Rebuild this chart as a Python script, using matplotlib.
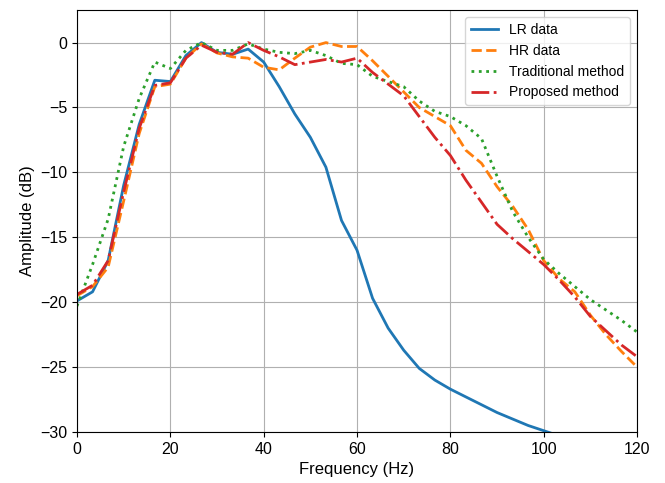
import numpy as np
import matplotlib
matplotlib.use("Agg")
import matplotlib.pyplot as plt

plt.rcParams['font.family'] = ['Liberation Sans', 'DejaVu Sans']

# frequency bins (Hz), spacing 10/3 Hz
freq = [0.0, 3.33, 6.67, 10.0, 13.33, 16.67, 20.0, 23.33, 26.67, 30.0,
        33.33, 36.67, 40.0, 43.33, 46.67, 50.0, 53.33, 56.67, 60.0, 63.33,
        66.67, 70.0, 73.33, 76.67, 80.0, 83.33, 86.67, 90.0, 93.33, 96.67,
        100.0, 103.33, 106.67, 110.0, 113.33, 116.67, 120.0]

lr_data = [-19.9, -19.2, -16.8, -11.0, -6.3, -2.9, -3.0, -1.0, 0.0, -0.75,
           -0.9, -0.5, -1.5, -3.4, -5.5, -7.3, -9.6, -13.7, -16.0, -19.7,
           -22.0, -23.7, -25.1, -26.0, -26.7, -27.3, -27.9, -28.5, -29.0, -29.5,
           -29.9, -30.3, -30.7, -31.1, -31.5, -31.9, -32.3]

hr_data = [-19.5, -18.8, -17.3, -12.2, -7.0, -3.4, -3.2, -1.2, -0.1, -0.8,
           -1.1, -1.2, -1.9, -2.1, -1.2, -0.35, 0.0, -0.3, -0.3, -1.4,
           -2.6, -3.8, -5.0, -5.7, -6.4, -8.3, -9.3, -11.1, -12.6, -14.4,
           -16.8, -18.2, -19.2, -21.0, -22.5, -23.8, -25.0]

traditional = [-20.3, -17.1, -13.6, -8.0, -4.3, -1.5, -2.0, -0.6, 0.0, -0.6,
               -0.6, -0.1, -0.5, -0.75, -0.85, -0.6, -1.0, -1.6, -1.7, -2.6,
               -3.0, -3.4, -4.5, -5.3, -5.7, -6.4, -7.4, -10.3, -13.0, -15.0,
               -16.7, -17.8, -18.8, -19.8, -20.6, -21.4, -22.3]

proposed = [-19.4, -18.7, -16.8, -11.5, -6.6, -3.3, -3.1, -1.2, -0.2, -0.75,
            -0.9, 0.0, -0.6, -1.1, -1.7, -1.5, -1.3, -1.5, -1.2, -2.3,
            -3.2, -4.1, -5.7, -7.3, -8.7, -10.6, -12.3, -14.0, -15.1, -16.1,
            -17.1, -18.3, -19.6, -21.1, -22.2, -23.3, -24.2]

fig = plt.figure(figsize=(6.65, 4.83), dpi=100)
ax = fig.add_axes([0.1158, 0.1056, 0.8422, 0.8734])

ax.plot(freq, lr_data, '-', color='tab:blue', lw=2, label='LR data')
ax.plot(freq, hr_data, '--', color='tab:orange', lw=2, label='HR data')
ax.plot(freq, traditional, ':', color='tab:green', lw=2, label='Traditional method')
ax.plot(freq, proposed, '-.', color='tab:red', lw=2, label='Proposed method')

ax.set_xlim(0, 120)
ax.set_ylim(-30, 2.5)
ax.set_xticks([0, 20, 40, 60, 80, 100, 120])
ax.set_yticks([0, -5, -10, -15, -20, -25, -30])
ax.tick_params(labelsize=11.5)
ax.set_xlabel('Frequency (Hz)', fontsize=12)
ax.set_ylabel('Amplitude (dB)', fontsize=12)
ax.grid(True)
ax.legend(loc='upper right', fontsize=10)

fig.savefig('out.png', dpi=100)
